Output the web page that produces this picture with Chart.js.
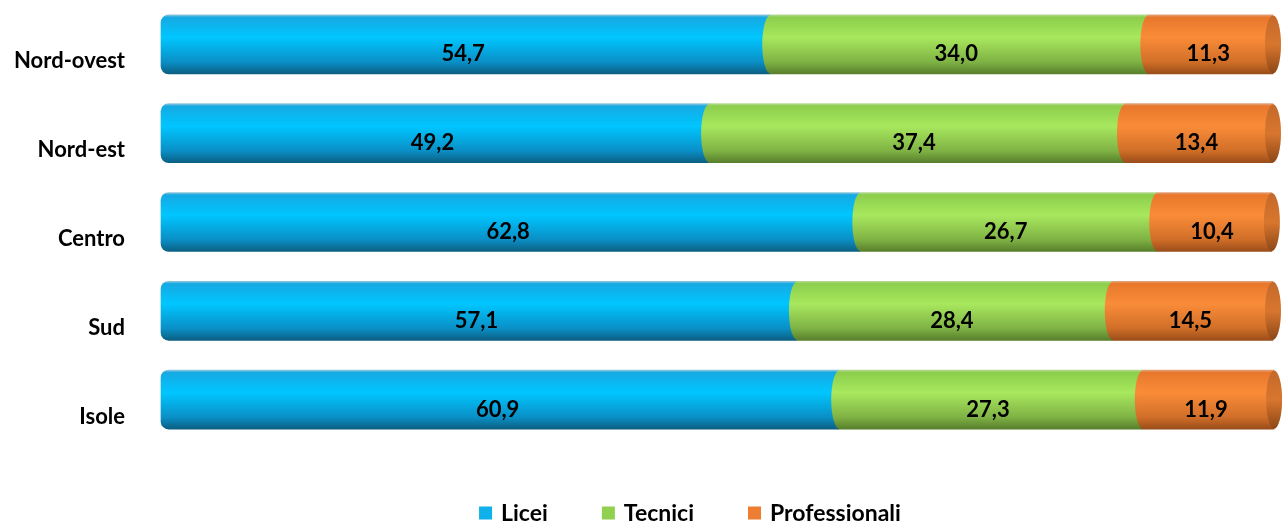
<!DOCTYPE html>
<html lang="it">
<head>
<meta charset="utf-8">
<title>Iscritti per tipo di scuola e ripartizione</title>
<script src="https://cdn.jsdelivr.net/npm/chart.js@4/dist/chart.umd.min.js"></script>
<style>
  html, body { margin: 0; padding: 0; background: #fff; }
  #wrap { width: 1282px; height: 523px; position: relative; }
</style>
</head>
<body>
<div id="wrap"><canvas id="chart"></canvas></div>
<script>
// ripartizioni
const regions = ['Nord-ovest', 'Nord-est', 'Centro', 'Sud', 'Isole'];
// quote percentuali per tipo di scuola
const licei = [54.7, 49.2, 62.8, 57.1, 60.9];
const tecnici = [34.0, 37.4, 26.7, 28.4, 27.3];
const professionali = [11.3, 13.4, 10.4, 14.5, 11.9];
const seriesNames = ['Licei', 'Tecnici', 'Professionali'];

const FONT = 'Lato, "Open Sans", sans-serif';
const BAR = 59;

// colori del cilindro: bordo alto, alto, luce, basso, bordo basso
const shades = {
  blue:   ['#8fc6dc', '#16a9e2', '#00c6ff', '#0a8fc6', '#0b5f82'],
  green:  ['#b4d890', '#8cce4c', '#a8e85e', '#7fb244', '#587f2c'],
  orange: ['#e2a27a', '#e8772c', '#fa8c38', '#d06e28', '#9a4d1a']
};
const legendColors = ['#10b0ea', '#92d050', '#ed7d31'];

function cylinder(c) {
  return function (ctx) {
    const chart = ctx.chart;
    if (ctx.type !== 'data' || !chart.scales.y) return c[2];
    const yc = chart.scales.y.getPixelForValue(ctx.dataIndex);
    if (!isFinite(yc)) return c[2];
    const g = chart.ctx.createLinearGradient(0, yc - BAR / 2, 0, yc + BAR / 2);
    g.addColorStop(0, c[0]);
    g.addColorStop(0.04, c[1]);
    g.addColorStop(0.38, c[2]);
    g.addColorStop(0.8, c[3]);
    g.addColorStop(1, c[4]);
    return g;
  };
}

// effetto cilindro + etichette dei valori
const cylinderPlugin = {
  id: 'cylinder',
  afterDatasetsDraw(chart) {
    const ctx = chart.ctx;
    const n = chart.data.datasets.length;
    ctx.save();
    for (let i = 0; i < n; i++) {
      const meta = chart.getDatasetMeta(i);
      meta.data.forEach((bar) => {
        const h = bar.height;
        const left = Math.min(bar.x, bar.base);
        const right = Math.max(bar.x, bar.base);
        ctx.fillStyle = bar.options.backgroundColor;
        ctx.beginPath();
        if (i === 0) {
          ctx.ellipse(left + 8, bar.y, 8, h / 2 - 0.5, 0, Math.PI / 2, Math.PI * 1.5);
        } else {
          ctx.ellipse(left + 1, bar.y, 8, h / 2 - 0.5, 0, Math.PI / 2, Math.PI * 1.5);
        }
        ctx.fill();
        if (i === n - 1) {
          // faccia destra
          const g = ctx.createLinearGradient(0, bar.y - h / 2, 0, bar.y + h / 2);
          g.addColorStop(0, '#c4692a');
          g.addColorStop(0.5, '#d8762e');
          g.addColorStop(1, '#8c4717');
          ctx.fillStyle = g;
          ctx.beginPath();
          ctx.ellipse(right, bar.y, 8, h / 2 - 0.5, 0, 0, Math.PI * 2);
          ctx.fill();
        }
      });
    }
    ctx.fillStyle = '#000';
    ctx.font = 'bold 22px ' + FONT;
    ctx.textAlign = 'center';
    ctx.textBaseline = 'middle';
    for (let i = 0; i < n; i++) {
      const meta = chart.getDatasetMeta(i);
      const values = chart.data.datasets[i].data;
      meta.data.forEach((bar, j) => {
        const cx = (bar.x + bar.base) / 2;
        ctx.fillText(values[j].toFixed(1).replace('.', ','), cx - 2, bar.y + 10);
      });
    }
    ctx.restore();
  },
  afterDraw(chart) {
    // legenda in basso
    const ctx = chart.ctx;
    ctx.save();
    ctx.font = 'bold 23px ' + FONT;
    ctx.textBaseline = 'middle';
    ctx.textAlign = 'left';
    const box = 13, gapText = 9, gapItem = 54;
    const widths = seriesNames.map((s) => box + gapText + ctx.measureText(s).width);
    const total = widths.reduce((a, b) => a + b, 0) + gapItem * (seriesNames.length - 1);
    let x = 690 - total / 2;
    const y = 513;
    seriesNames.forEach((s, i) => {
      ctx.fillStyle = legendColors[i];
      ctx.fillRect(x, y - box / 2, box, box);
      ctx.fillStyle = '#000';
      ctx.fillText(s, x + box + gapText, y + 1);
      x += widths[i] + gapItem;
    });
    ctx.restore();
  }
};

new Chart(document.getElementById('chart').getContext('2d'), {
  type: 'bar',
  data: {
    labels: regions,
    datasets: [
      { label: seriesNames[0], data: licei, backgroundColor: cylinder(shades.blue),
        borderRadius: { topLeft: 8, bottomLeft: 8 }, borderSkipped: false },
      { label: seriesNames[1], data: tecnici, backgroundColor: cylinder(shades.green) },
      { label: seriesNames[2], data: professionali, backgroundColor: cylinder(shades.orange) }
    ]
  },
  options: {
    indexAxis: 'y',
    responsive: true,
    maintainAspectRatio: false,
    animation: false,
    barThickness: BAR,
    clip: false,
    layout: { padding: { top: 0, right: 9, bottom: 79, left: 0 } },
    plugins: {
      legend: { display: false },
      tooltip: { enabled: false }
    },
    scales: {
      x: {
        stacked: true,
        display: false,
        min: 0,
        max: 100
      },
      y: {
        stacked: true,
        grid: { display: false, drawTicks: false },
        border: { display: false },
        afterFit(scale) {
          scale.width = 161;
          scale.paddingTop = 0;
          scale.paddingBottom = 0;
        },
        ticks: {
          color: '#000',
          padding: 36,
          labelOffset: 17,
          font: { family: FONT, size: 22, weight: 'bold' }
        }
      }
    }
  },
  plugins: [cylinderPlugin]
});
</script>
</body>
</html>
